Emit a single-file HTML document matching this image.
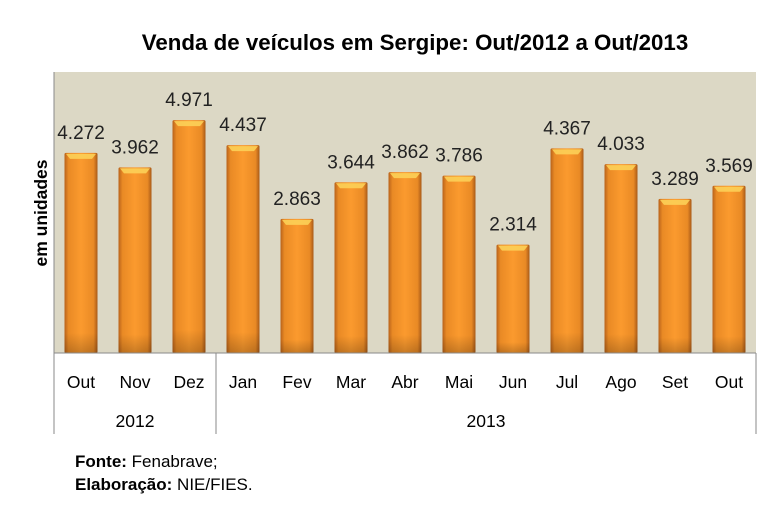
<!DOCTYPE html>
<html><head><meta charset="utf-8"><style>
html,body{margin:0;padding:0;background:#fff;}
svg{display:block;font-family:"Liberation Sans",sans-serif;}
</style></head><body>
<svg width="779" height="508" viewBox="0 0 779 508">
<defs>
<linearGradient id="g" x1="0" x2="1" y1="0" y2="0">
<stop offset="0" stop-color="#b8621a"/>
<stop offset="0.12" stop-color="#e98a25"/>
<stop offset="0.5" stop-color="#fb9a2e"/>
<stop offset="0.88" stop-color="#e98a25"/>
<stop offset="1" stop-color="#a85a18"/>
</linearGradient>
<linearGradient id="v" x1="0" x2="0" y1="0" y2="1">
<stop offset="0" stop-color="#000" stop-opacity="0"/>
<stop offset="0.9" stop-color="#000" stop-opacity="0"/>
<stop offset="1" stop-color="#000" stop-opacity="0.2"/>
</linearGradient>
<g id="cap"><path d="M-15 1L15 1L11 6L-11 6Z" fill="#fcd058" opacity="0.9"/></g>
</defs>
<rect width="779" height="508" fill="#fff"/>
<text x="415" y="50" text-anchor="middle" font-size="22.3" font-weight="bold" fill="#000">Venda de veículos em Sergipe: Out/2012 a Out/2013</text>
<rect x="54" y="72" width="702" height="281" fill="#dcd8c5"/>
<g font-size="19" fill="#222" text-anchor="middle">
<g transform="translate(81,152.9)"><rect x="-16.5" width="33" height="200.1" rx="1.5" fill="url(#g)"/><rect x="-16.5" width="33" height="200.1" fill="url(#v)"/><use href="#cap"/><text y="-14">4.272</text></g>
<g transform="translate(135,167.4)"><rect x="-16.5" width="33" height="185.6" rx="1.5" fill="url(#g)"/><rect x="-16.5" width="33" height="185.6" fill="url(#v)"/><use href="#cap"/><text y="-14">3.962</text></g>
<g transform="translate(189,120.1)"><rect x="-16.5" width="33" height="232.9" rx="1.5" fill="url(#g)"/><rect x="-16.5" width="33" height="232.9" fill="url(#v)"/><use href="#cap"/><text y="-14">4.971</text></g>
<g transform="translate(243,145.1)"><rect x="-16.5" width="33" height="207.9" rx="1.5" fill="url(#g)"/><rect x="-16.5" width="33" height="207.9" fill="url(#v)"/><use href="#cap"/><text y="-14">4.437</text></g>
<g transform="translate(297,218.9)"><rect x="-16.5" width="33" height="134.1" rx="1.5" fill="url(#g)"/><rect x="-16.5" width="33" height="134.1" fill="url(#v)"/><use href="#cap"/><text y="-14">2.863</text></g>
<g transform="translate(351,182.3)"><rect x="-16.5" width="33" height="170.7" rx="1.5" fill="url(#g)"/><rect x="-16.5" width="33" height="170.7" fill="url(#v)"/><use href="#cap"/><text y="-14">3.644</text></g>
<g transform="translate(405,172.1)"><rect x="-16.5" width="33" height="180.9" rx="1.5" fill="url(#g)"/><rect x="-16.5" width="33" height="180.9" fill="url(#v)"/><use href="#cap"/><text y="-14">3.862</text></g>
<g transform="translate(459,175.6)"><rect x="-16.5" width="33" height="177.4" rx="1.5" fill="url(#g)"/><rect x="-16.5" width="33" height="177.4" fill="url(#v)"/><use href="#cap"/><text y="-14">3.786</text></g>
<g transform="translate(513,244.6)"><rect x="-16.5" width="33" height="108.4" rx="1.5" fill="url(#g)"/><rect x="-16.5" width="33" height="108.4" fill="url(#v)"/><use href="#cap"/><text y="-14">2.314</text></g>
<g transform="translate(567,148.4)"><rect x="-16.5" width="33" height="204.6" rx="1.5" fill="url(#g)"/><rect x="-16.5" width="33" height="204.6" fill="url(#v)"/><use href="#cap"/><text y="-14">4.367</text></g>
<g transform="translate(621,164.1)"><rect x="-16.5" width="33" height="188.9" rx="1.5" fill="url(#g)"/><rect x="-16.5" width="33" height="188.9" fill="url(#v)"/><use href="#cap"/><text y="-14">4.033</text></g>
<g transform="translate(675,198.9)"><rect x="-16.5" width="33" height="154.1" rx="1.5" fill="url(#g)"/><rect x="-16.5" width="33" height="154.1" fill="url(#v)"/><use href="#cap"/><text y="-14">3.289</text></g>
<g transform="translate(729,185.8)"><rect x="-16.5" width="33" height="167.2" rx="1.5" fill="url(#g)"/><rect x="-16.5" width="33" height="167.2" fill="url(#v)"/><use href="#cap"/><text y="-14">3.569</text></g>
</g>
<g font-size="17.5" text-anchor="middle" fill="#000">
<text x="81" y="388">Out</text><text x="135" y="388">Nov</text><text x="189" y="388">Dez</text>
<text x="243" y="388">Jan</text><text x="297" y="388">Fev</text><text x="351" y="388">Mar</text>
<text x="405" y="388">Abr</text><text x="459" y="388">Mai</text><text x="513" y="388">Jun</text>
<text x="567" y="388">Jul</text><text x="621" y="388">Ago</text><text x="675" y="388">Set</text>
<text x="729" y="388">Out</text>
<text x="135" y="427">2012</text>
<text x="486" y="427">2013</text>
</g>
<line x1="54" y1="353" x2="756" y2="353" stroke="#8a8a8a"/>
<line x1="54" y1="72" x2="54" y2="434" stroke="#8a8a8a"/>
<line x1="216" y1="353" x2="216" y2="434" stroke="#8a8a8a"/>
<line x1="756" y1="353" x2="756" y2="434" stroke="#8a8a8a"/>
<text transform="translate(47,213) rotate(-90)" text-anchor="middle" font-size="17.5" font-weight="bold">em unidades</text>
<text x="75" y="467" font-size="17"><tspan font-weight="bold">Fonte:</tspan> Fenabrave;</text>
<text x="75" y="490" font-size="17"><tspan font-weight="bold">Elaboração:</tspan> NIE/FIES.</text>
</svg>
</body></html>
